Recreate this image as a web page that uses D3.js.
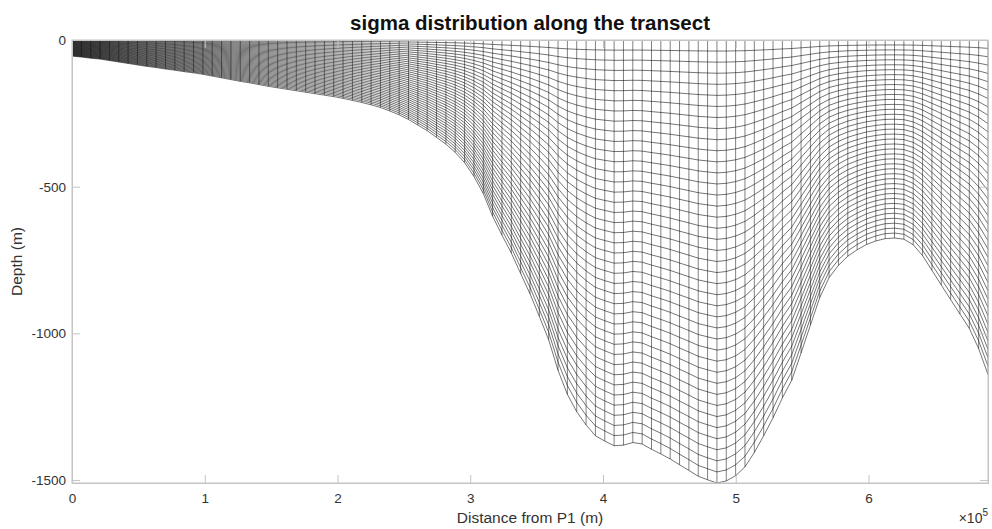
<!DOCTYPE html>
<html>
<head>
<meta charset="utf-8">
<script src="https://cdn.jsdelivr.net/npm/d3@7/dist/d3.min.js"></script>
<style>
  html, body { margin: 0; padding: 0; background: #fff; }
  svg { display: block; font-family: "Liberation Sans", Arial, Helvetica, sans-serif; }
</style>
</head>
<body>
<svg id="chart" width="992" height="529"></svg>
<script>
// ---- data ----
const stationSpacing = 7040.8;        // m between stations along the transect
const bottomDepth = [                 // water depth (m) at each station, from P1 outwards
  55, 58, 62, 65, 70, 75, 80, 85, 90, 94,
  99, 103, 108, 112, 117, 123, 129, 135, 141, 146,
  152, 158, 163, 168, 173, 178, 183, 188, 193, 199,
  206, 213, 221, 230, 242, 255, 271, 290, 309, 332,
  355, 383, 418, 465, 523, 601, 665, 726, 796, 865,
  942, 1022, 1126, 1208, 1267, 1312, 1349, 1367, 1383, 1381,
  1372, 1377, 1395, 1411, 1428, 1448, 1467, 1487, 1499, 1510,
  1503, 1485, 1455, 1406, 1349, 1288, 1220, 1160, 1067, 972,
  878, 810, 768, 737, 715, 697, 685, 677, 675, 679,
  698, 735, 785, 835, 885, 934, 983, 1052, 1140
];
const nLevels = 40;                   // number of sigma layers
const xTicks = [0, 1e5, 2e5, 3e5, 4e5, 5e5, 6e5];
const xTickLabels = ["0", "1", "2", "3", "4", "5", "6"];
const yTicks = [-1500, -1000, -500, 0];
const yTickLabels = ["-1500", "-1000", "-500", "0"];
const titleText = "sigma distribution along the transect";
const xLabelText = "Distance from P1 (m)";
const yLabelText = "Depth (m)";

// ---- layout ----
const svg = d3.select("#chart");
const m = { left: 72, right: 988, top: 40, bottom: 483 };
const x = d3.scaleLinear().domain([0, 6.9e5]).range([m.left, m.right]);
const y = d3.scaleLinear().domain([-1510, 0]).range([m.bottom, m.top]);

const stations = bottomDepth.map((h, i) => ({ d: i * stationSpacing, h }));
const sigmas = d3.range(nLevels + 1).map(k => -k / nLevels);

svg.append("clipPath").attr("id", "clip")
  .append("rect").attr("x", m.left).attr("y", m.top)
  .attr("width", m.right - m.left).attr("height", m.bottom - m.top);

const g = svg.append("g").attr("clip-path", "url(#clip)");

// vertical grid lines at each station
g.append("g").selectAll("line").data(stations).join("line")
  .attr("x1", s => x(s.d)).attr("x2", s => x(s.d))
  .attr("y1", y(0)).attr("y2", s => y(-s.h))
  .attr("stroke", "#000").attr("stroke-width", 0.5);

// sigma level lines
const line = d3.line().x(p => x(p[0])).y(p => y(p[1]));
g.append("g").selectAll("path").data(sigmas).join("path")
  .attr("d", sg => line(stations.map(s => [s.d, sg * s.h])))
  .attr("fill", "none")
  .attr("stroke", "#000").attr("stroke-width", 0.55);

// ---- axes (MATLAB-like box with inward ticks) ----
const axisColor = "#c4c4c4";
const textColor = "#333";
const ax = svg.append("g");
ax.append("rect").attr("x", m.left).attr("y", m.top)
  .attr("width", m.right - m.left).attr("height", m.bottom - m.top)
  .attr("fill", "none").attr("stroke", axisColor).attr("stroke-width", 1);

const xAxis = d3.axisBottom(x).tickValues(xTicks).tickFormat((d, i) => xTickLabels[i])
  .tickSizeInner(-8).tickSizeOuter(0).tickPadding(10);
const gx = ax.append("g").attr("transform", `translate(0,${m.bottom})`).call(xAxis);
const xAxisTop = d3.axisTop(x).tickValues(xTicks).tickFormat("").tickSizeInner(-8).tickSizeOuter(0);
const gxt = ax.append("g").attr("transform", `translate(0,${m.top})`).call(xAxisTop);

const yAxis = d3.axisLeft(y).tickValues(yTicks).tickFormat((d, i) => yTickLabels[i])
  .tickSizeInner(-8).tickSizeOuter(0).tickPadding(6);
const gy = ax.append("g").attr("transform", `translate(${m.left},0)`).call(yAxis);
const yAxisR = d3.axisRight(y).tickValues(yTicks).tickFormat("").tickSizeInner(-8).tickSizeOuter(0);
const gyr = ax.append("g").attr("transform", `translate(${m.right},0)`).call(yAxisR);

[gx, gxt, gy, gyr].forEach(a => {
  a.select(".domain").attr("stroke", axisColor);
  a.selectAll(".tick line").attr("stroke", axisColor);
  a.selectAll(".tick text").attr("fill", textColor)
    .style("font-size", "13.5px").style("font-family", "\"Liberation Sans\", Arial, sans-serif");
});

// exponent label
const ex = svg.append("text").attr("x", m.right).attr("y", 523)
  .attr("text-anchor", "end").attr("fill", textColor).style("font-size", "14px");
ex.append("tspan").text("\u00d710");
ex.append("tspan").attr("dy", -7).style("font-size", "10px").text("5");

// labels
svg.append("text").attr("x", (m.left + m.right) / 2).attr("y", 523)
  .attr("text-anchor", "middle").attr("fill", textColor).style("font-size", "15.5px")
  .text(xLabelText);
svg.append("text").attr("transform", `translate(22,${(m.top + m.bottom) / 2}) rotate(-90)`)
  .attr("text-anchor", "middle").attr("fill", textColor).style("font-size", "15.5px")
  .text(yLabelText);
svg.append("text").attr("x", (m.left + m.right) / 2).attr("y", 30)
  .attr("text-anchor", "middle").attr("fill", "#111").style("font-size", "20.5px")
  .style("font-weight", "bold").text(titleText);
</script>
</body>
</html>
